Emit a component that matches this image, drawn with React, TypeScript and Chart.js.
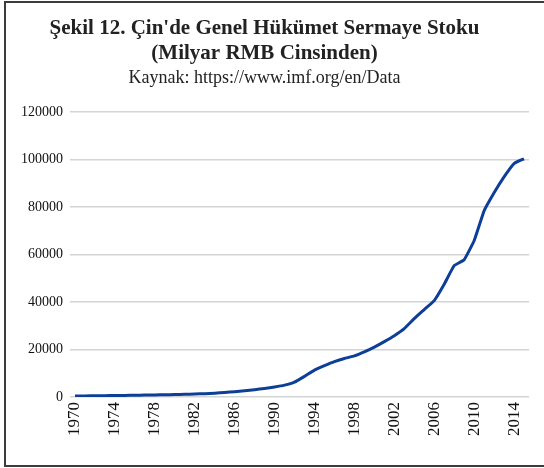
import React, { useEffect, useRef } from "react";
import { Chart, registerables } from "chart.js";

Chart.register(...registerables);

const years: number[] = [
  1970, 1971, 1972, 1973, 1974, 1975, 1976, 1977, 1978, 1979,
  1980, 1981, 1982, 1983, 1984, 1985, 1986, 1987, 1988, 1989,
  1990, 1991, 1992, 1993, 1994, 1995, 1996, 1997, 1998, 1999,
  2000, 2001, 2002, 2003, 2004, 2005, 2006, 2007, 2008, 2009,
  2010, 2011, 2012, 2013, 2014, 2015,
];

const capitalStock: number[] = [
  400, 450, 500, 560, 620, 680, 730, 790, 860, 950,
  1050, 1150, 1270, 1420, 1620, 1900, 2250, 2650, 3100, 3600,
  4200, 5000, 6300, 8700, 11300, 13200, 14900, 16200, 17300, 19000,
  21000, 23300, 25800, 28800, 33000, 36800, 40600, 47500, 55300, 57800,
  65800, 78400, 86000, 92700, 98300, 100300,
];

const titleLines: string[] = [
  "Şekil 12. Çin'de Genel Hükümet Sermaye Stoku",
  "(Milyar RMB Cinsinden)",
];
const subtitleText = "Kaynak: https://www.imf.org/en/Data";

const FONT = "'Liberation Serif', 'Times New Roman', serif";

export default function App() {
  const ref = useRef<HTMLCanvasElement | null>(null);

  useEffect(() => {
    if (!ref.current) return;
    const chart = new Chart(ref.current, {
      type: "line",
      data: {
        labels: years.map(String),
        datasets: [
          {
            data: capitalStock,
            borderColor: "#0e3f97",
            borderWidth: 3,
            pointRadius: 0,
            tension: 0.1,
            fill: false,
          },
        ],
      },
      options: {
        responsive: false,
        animation: false,
        layout: { padding: { left: 0, right: 15, top: 0, bottom: 0 } },
        plugins: {
          legend: { display: false },
          tooltip: { enabled: false },
          title: {
            display: true,
            text: titleLines,
            color: "#222",
            font: { family: FONT, size: 21, weight: "bold", lineHeight: 1.2 },
            padding: { top: 16, bottom: 1 },
          },
          subtitle: {
            display: true,
            text: subtitleText,
            color: "#222",
            font: { family: FONT, size: 18, lineHeight: 1.2 },
            padding: { top: 0, bottom: 23 },
          },
        },
        scales: {
          x: {
            type: "category",
            offset: true,
            grid: { display: false, drawTicks: false },
            border: { display: false },
            afterFit: (s: any) => {
              s.height = 71;
              s.paddingLeft = 0;
              s.paddingRight = 0;
            },
            ticks: {
              autoSkip: false,
              minRotation: 90,
              maxRotation: 90,
              padding: 5,
              color: "#111",
              font: { family: FONT, size: 17 },
              callback: function (this: any, _v: any, i: number) {
                const y = years[i];
                return (y - 1970) % 4 === 0 ? String(y) : "";
              },
            },
          },
          y: {
            min: 0,
            max: 120000,
            grid: { color: "#d4d4d4", lineWidth: 1.5, drawTicks: false },
            border: { display: false },
            afterFit: (s: any) => {
              s.width = 70;
            },
            ticks: {
              stepSize: 20000,
              padding: 7,
              color: "#111",
              font: { family: FONT, size: 14 },
              callback: (v: any) => String(v),
            },
          },
        },
      },
    } as any);
    return () => chart.destroy();
  }, []);

  return (
    <div>
      <div
        style={{
          position: "fixed",
          left: 4,
          top: 1,
          width: 540,
          height: 466,
          boxSizing: "border-box",
          borderTop: "2px solid #3c3c3c",
          borderLeft: "2px solid #3c3c3c",
          borderBottom: "2px solid #3c3c3c",
          background: "#fff",
        }}
      />
      <canvas
        ref={ref}
        width={544}
        height={468}
        style={{ position: "fixed", left: 0, top: 0, width: 544, height: 468 }}
      />
    </div>
  );
}
